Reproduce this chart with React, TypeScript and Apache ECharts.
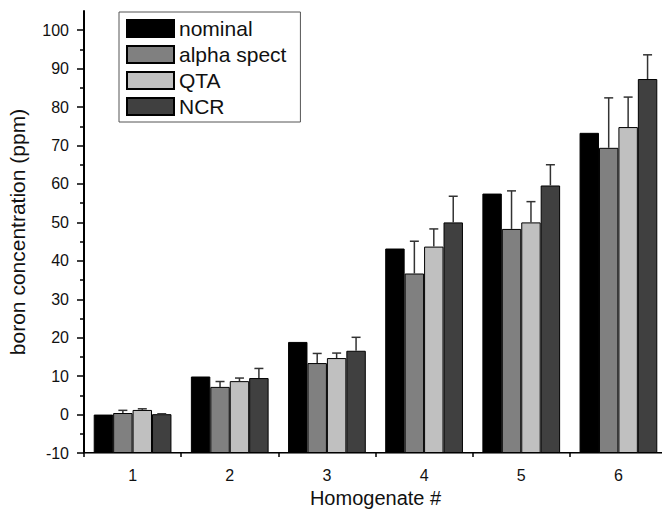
import React, { useEffect, useRef } from "react";
import * as echarts from "echarts";

const categories = ["1", "2", "3", "4", "5", "6"];
const seriesNames = ["nominal", "alpha spect", "QTA", "NCR"];
const nominal = [0, 9.9, 18.9, 43.2, 57.5, 73.3];
const alphaSpect = [0.4, 7.2, 13.4, 36.7, 48.3, 69.4];
const alphaErr = [0.7, 1.4, 2.5, 8.4, 9.9, 13.0];
const qta = [1.2, 8.7, 14.7, 43.7, 50.0, 74.8];
const qtaErr = [0.3, 0.8, 1.3, 4.6, 5.4, 7.8];
const ncr = [0.1, 9.5, 16.6, 50.0, 59.6, 87.3];
const ncrErr = [0.1, 2.5, 3.5, 6.8, 5.4, 6.3];
const yMajorTicks = [-10, 0, 10, 20, 30, 40, 50, 60, 70, 80, 90, 100];
const yMinorTicks = [-5, 5, 15, 25, 35, 45, 55, 65, 75, 85, 95];
const Y_MIN = -10;
const Y_MAX = 105;

const colors = ["#000000", "#808080", "#c0c0c0", "#404040"];
const FONT = "Liberation Sans, Arial, sans-serif";

export default function App() {
  const ref = useRef<HTMLDivElement>(null);
  useEffect(() => {
    document.body.style.margin = "0";
    if (!ref.current) return;
    const chart = echarts.init(ref.current, undefined, { renderer: "svg" });
    const shift = (v: number) => v - Y_MIN;
    const barData = [nominal, alphaSpect, qta, ncr];
    const errData: (number[] | null)[] = [null, alphaErr, qtaErr, ncrErr];

    const bars = barData.map((vals, k) => ({
      name: seriesNames[k],
      type: "bar",
      xAxisIndex: 0,
      yAxisIndex: 0,
      barGap: "0%",
      barCategoryGap: "20%",
      data: vals.map(shift),
      itemStyle: { color: colors[k], borderColor: "#000", borderWidth: 1 },
      z: 2,
    }));

    const errSeries: any[] = [];
    errData.forEach((errs, k) => {
      if (!errs) return;
      const vals = barData[k];
      errSeries.push({
        name: "err-" + seriesNames[k],
        type: "custom",
        xAxisIndex: 0,
        yAxisIndex: 0,
        z: 3,
        silent: true,
        data: vals.map((v, i) => [i, shift(v), shift(v + errs[i])]),
        renderItem: (params: any, api: any) => {
          const i = api.value(0);
          const lo = api.coord([i, api.value(1)]);
          const hi = api.coord([i, api.value(2)]);
          const band = api.size([1, 0])[0];
          const groupW = band * 0.8;
          const barW = groupW / 4;
          const x = lo[0] - groupW / 2 + barW * (k + 0.5);
          const st = { stroke: "#333", lineWidth: 1.5 };
          return {
            type: "group",
            children: [
              { type: "line", shape: { x1: x, y1: lo[1], x2: x, y2: hi[1] }, style: st },
              { type: "line", shape: { x1: x - 4.5, y1: hi[1], x2: x + 4.5, y2: hi[1] }, style: st },
            ],
          };
        },
      });
    });

    const option: any = {
      animation: false,
      grid: { left: 84, right: -5, top: 11, bottom: 56, outerBoundsMode: "none", containLabel: false },
      legend: {
        data: seriesNames,
        orient: "vertical",
        left: 119,
        top: 12,
        icon: "rect",
        itemWidth: 47,
        itemHeight: 17,
        itemGap: 5,
        padding: [6, 14, 5, 7],
        borderColor: "#555",
        borderWidth: 1,
        backgroundColor: "#fff",
        textStyle: { fontSize: 21, color: "#111", fontFamily: FONT },
      },
      xAxis: [
        {
          type: "category",
          data: categories,
          position: "bottom",
          axisLine: { lineStyle: { color: "#000", width: 2 } },
          axisTick: { alignWithLabel: true, length: 7, lineStyle: { color: "#000", width: 1.5 } },
          axisLabel: { fontSize: 16, color: "#111", margin: 14, fontFamily: FONT },
          name: "Homogenate #",
          nameLocation: "middle",
          nameGap: 33,
          nameTextStyle: { fontSize: 20, color: "#111", fontFamily: FONT },
          splitLine: { show: false },
        },
        {
          type: "value",
          min: 0,
          max: categories.length,
          interval: 1,
          position: "bottom",
          axisLine: { show: false, onZero: false },
          axisTick: { show: true, length: 4, lineStyle: { color: "#000", width: 1.5 } },
          axisLabel: { show: false },
          splitLine: { show: false },
        },
        {
          type: "category",
          data: categories,
          position: "top",
          axisLine: { lineStyle: { color: "#777", width: 1 } },
          axisTick: { show: false },
          axisLabel: { show: false },
          splitLine: { show: false },
        },
      ],
      yAxis: [
        {
          type: "value",
          min: 0,
          max: Y_MAX - Y_MIN,
          interval: 10,
          position: "left",
          axisLine: { show: true, lineStyle: { color: "#000", width: 2 } },
          axisTick: { show: true, length: 7, customValues: yMajorTicks.map(shift), lineStyle: { color: "#000", width: 1.5 } },
          axisLabel: {
            customValues: yMajorTicks.map(shift),
            formatter: (v: number) => String(Math.round(v + Y_MIN)),
            fontSize: 16,
            color: "#111",
            margin: 15,
            fontFamily: FONT,
          },
          splitLine: { show: false },
          name: "boron concentration (ppm)",
          nameLocation: "middle",
          nameGap: 56,
          nameRotate: 90,
          nameTextStyle: { fontSize: 21, color: "#111", fontFamily: FONT },
        },
        {
          type: "value",
          min: 0,
          max: Y_MAX - Y_MIN,
          interval: 10,
          position: "left",
          offset: 0,
          axisLine: { show: false },
          axisTick: { show: true, length: 4, customValues: yMinorTicks.map(shift), lineStyle: { color: "#000", width: 1.5 } },
          axisLabel: { show: false },
          splitLine: { show: false },
        },
      ],
      series: [...bars, ...errSeries],
    };
    chart.setOption(option);
    return () => chart.dispose();
  }, []);
  return <div ref={ref} style={{ width: 662, height: 509, overflow: "hidden" }} />;
}
